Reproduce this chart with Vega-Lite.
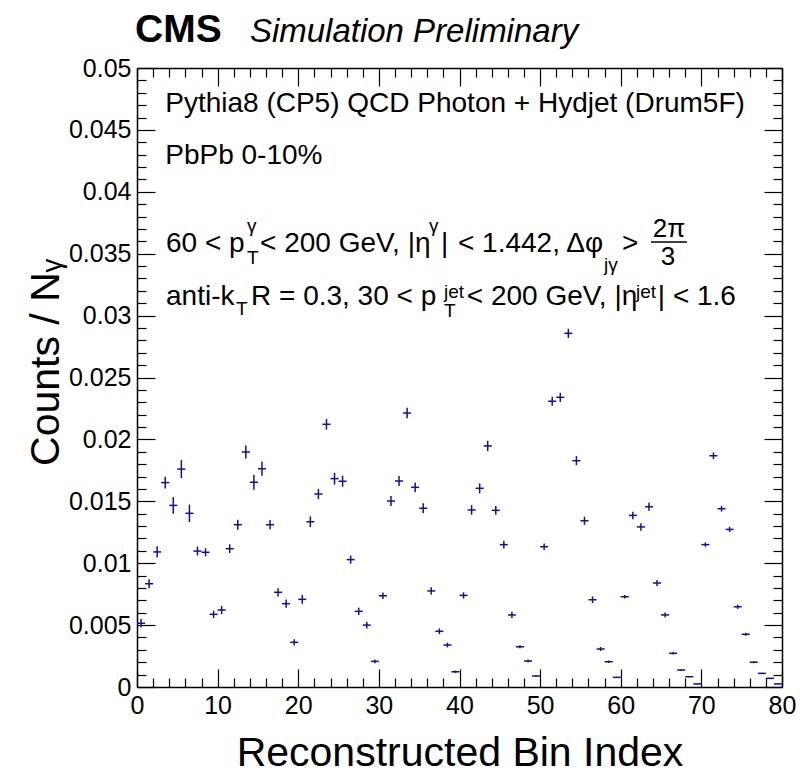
{
  "$schema": "https://vega.github.io/schema/vega-lite/v6.json",
  "width": 645,
  "height": 619,
  "autosize": {"type": "none"},
  "padding": {"left": 137, "top": 68, "right": 18, "bottom": 86},
  "background": "white",
  "config": {
    "view": {"stroke": null},
    "font": "Liberation Sans",
    "axis": {
      "grid": false,
      "domainColor": "black",
      "domainWidth": 1.5,
      "tickColor": "black",
      "tickWidth": 1.2,
      "labelFont": "Liberation Sans",
      "labelFontSize": 25,
      "labelColor": "black",
      "labelFlush": false,
      "labelOverlap": false,
      "titleFont": "Liberation Sans",
      "titleFontSize": 41,
      "titleFontWeight": "normal",
      "titleColor": "black"
    }
  },
  "datasets": {
    "bins": [
      {"lo":0,"hi":1,"c":0.5,"v":0.00515,"e":0.00035},
      {"lo":1,"hi":2,"c":1.5,"v":0.00834,"e":0.00036},
      {"lo":2,"hi":3,"c":2.5,"v":0.01091,"e":0.00045},
      {"lo":3,"hi":4,"c":3.5,"v":0.01651,"e":0.00047},
      {"lo":4,"hi":5,"c":4.5,"v":0.01467,"e":0.00067},
      {"lo":5,"hi":6,"c":5.5,"v":0.0176,"e":0.00073},
      {"lo":6,"hi":7,"c":6.5,"v":0.01403,"e":0.0007},
      {"lo":7,"hi":8,"c":7.5,"v":0.01098,"e":0.00036},
      {"lo":8,"hi":9,"c":8.5,"v":0.01088,"e":0.00033},
      {"lo":9,"hi":10,"c":9.5,"v":0.00587,"e":0.0003},
      {"lo":10,"hi":11,"c":10.5,"v":0.00622,"e":0.00033},
      {"lo":11,"hi":12,"c":11.5,"v":0.01117,"e":0.00036},
      {"lo":12,"hi":13,"c":12.5,"v":0.01311,"e":0.0004},
      {"lo":13,"hi":14,"c":13.5,"v":0.01898,"e":0.00052},
      {"lo":14,"hi":15,"c":14.5,"v":0.01654,"e":0.0006},
      {"lo":15,"hi":16,"c":15.5,"v":0.01763,"e":0.00057},
      {"lo":16,"hi":17,"c":16.5,"v":0.01311,"e":0.00037},
      {"lo":17,"hi":18,"c":17.5,"v":0.00765,"e":0.00033},
      {"lo":18,"hi":19,"c":18.5,"v":0.00673,"e":0.00033},
      {"lo":19,"hi":20,"c":19.5,"v":0.00361,"e":0.00025},
      {"lo":20,"hi":21,"c":20.5,"v":0.00708,"e":0.00036},
      {"lo":21,"hi":22,"c":21.5,"v":0.01335,"e":0.00043},
      {"lo":22,"hi":23,"c":22.5,"v":0.01559,"e":0.00042},
      {"lo":23,"hi":24,"c":23.5,"v":0.02122,"e":0.00043},
      {"lo":24,"hi":25,"c":24.5,"v":0.01683,"e":0.00048},
      {"lo":25,"hi":26,"c":25.5,"v":0.01662,"e":0.00045},
      {"lo":26,"hi":27,"c":26.5,"v":0.01029,"e":0.00033},
      {"lo":27,"hi":28,"c":27.5,"v":0.00611,"e":0.0003},
      {"lo":28,"hi":29,"c":28.5,"v":0.005,"e":0.00027},
      {"lo":29,"hi":30,"c":29.5,"v":0.00207,"e":0.00015},
      {"lo":30,"hi":31,"c":30.5,"v":0.00737,"e":0.00027},
      {"lo":31,"hi":32,"c":31.5,"v":0.01502,"e":0.0004},
      {"lo":32,"hi":33,"c":32.5,"v":0.01664,"e":0.0004},
      {"lo":33,"hi":34,"c":33.5,"v":0.02213,"e":0.00043},
      {"lo":34,"hi":35,"c":34.5,"v":0.01613,"e":0.00039},
      {"lo":35,"hi":36,"c":35.5,"v":0.01444,"e":0.0004},
      {"lo":36,"hi":37,"c":36.5,"v":0.00776,"e":0.0003},
      {"lo":37,"hi":38,"c":37.5,"v":0.0045,"e":0.00023},
      {"lo":38,"hi":39,"c":38.5,"v":0.00339,"e":0.00019},
      {"lo":39,"hi":40,"c":39.5,"v":0.00123,"e":0.0001},
      {"lo":40,"hi":41,"c":40.5,"v":0.0074,"e":0.00025},
      {"lo":41,"hi":42,"c":41.5,"v":0.0143,"e":0.00039},
      {"lo":42,"hi":43,"c":42.5,"v":0.01605,"e":0.0004},
      {"lo":43,"hi":44,"c":43.5,"v":0.01947,"e":0.00041},
      {"lo":44,"hi":45,"c":44.5,"v":0.01427,"e":0.00036},
      {"lo":45,"hi":46,"c":45.5,"v":0.0115,"e":0.00032},
      {"lo":46,"hi":47,"c":46.5,"v":0.00582,"e":0.00025},
      {"lo":47,"hi":48,"c":47.5,"v":0.00325,"e":0.00013},
      {"lo":48,"hi":49,"c":48.5,"v":0.0021,"e":0.00012},
      {"lo":49,"hi":50,"c":49.5,"v":0.00089,"e":0.00005},
      {"lo":50,"hi":51,"c":50.5,"v":0.01133,"e":0.00027},
      {"lo":51,"hi":52,"c":51.5,"v":0.02308,"e":0.00037},
      {"lo":52,"hi":53,"c":52.5,"v":0.0234,"e":0.00037},
      {"lo":53,"hi":54,"c":53.5,"v":0.02857,"e":0.00037},
      {"lo":54,"hi":55,"c":54.5,"v":0.01828,"e":0.00037},
      {"lo":55,"hi":56,"c":55.5,"v":0.01343,"e":0.00033},
      {"lo":56,"hi":57,"c":56.5,"v":0.00705,"e":0.00027},
      {"lo":57,"hi":58,"c":57.5,"v":0.00307,"e":0.00016},
      {"lo":58,"hi":59,"c":58.5,"v":0.00204,"e":0.0001},
      {"lo":59,"hi":60,"c":59.5,"v":0.00078,"e":0.00005},
      {"lo":60,"hi":61,"c":60.5,"v":0.00729,"e":0.00015},
      {"lo":61,"hi":62,"c":61.5,"v":0.01386,"e":0.0003},
      {"lo":62,"hi":63,"c":62.5,"v":0.01293,"e":0.0003},
      {"lo":63,"hi":64,"c":63.5,"v":0.01456,"e":0.00032},
      {"lo":64,"hi":65,"c":64.5,"v":0.0084,"e":0.00024},
      {"lo":65,"hi":66,"c":65.5,"v":0.00582,"e":0.00019},
      {"lo":66,"hi":67,"c":66.5,"v":0.00272,"e":0.0001},
      {"lo":67,"hi":68,"c":67.5,"v":0.00137,"e":0.00007},
      {"lo":68,"hi":69,"c":68.5,"v":0.00083,"e":0.00005},
      {"lo":69,"hi":70,"c":69.5,"v":0.00025,"e":0.00003},
      {"lo":70,"hi":71,"c":70.5,"v":0.0115,"e":0.00017},
      {"lo":71,"hi":72,"c":71.5,"v":0.01868,"e":0.00027},
      {"lo":72,"hi":73,"c":72.5,"v":0.0144,"e":0.00023},
      {"lo":73,"hi":74,"c":73.5,"v":0.01273,"e":0.00021},
      {"lo":74,"hi":75,"c":74.5,"v":0.00648,"e":0.00017},
      {"lo":75,"hi":76,"c":75.5,"v":0.00426,"e":0.00012},
      {"lo":76,"hi":77,"c":76.5,"v":0.002,"e":0.00008},
      {"lo":77,"hi":78,"c":77.5,"v":0.0011,"e":0.00006},
      {"lo":78,"hi":79,"c":78.5,"v":0.0007,"e":0.00005},
      {"lo":79,"hi":80,"c":79.5,"v":0.00025,"e":0.00003}
    ],
    "ann": [
      {"x":3.5,"y":0.04645,"t":"Pythia8 (CP5) QCD Photon + Hydjet (Drum5F)"},
      {"x":3.5,"y":0.04225,"t":"PbPb 0-10%"},
      {"x":3.6,"y":0.03514,"t":"60 < p"},
      {"x":15.26,"y":0.03514,"t":"< 200 GeV, |η"},
      {"x":37.7,"y":0.03514,"t":"|"},
      {"x":39.81,"y":0.03514,"t":"< 1.442, Δφ"},
      {"x":60.16,"y":0.03514,"t":">"},
      {"x":3.6,"y":0.03086,"t":"anti-k"},
      {"x":14.14,"y":0.03086,"t":"R = 0.3, 30 < p"},
      {"x":40.9,"y":0.03086,"t":"< 200 GeV, |η"},
      {"x":64.6,"y":0.03086,"t":"| < 1.6"}
    ],
    "scr": [
      {"x":13.64,"y":0.03675,"t":"γ"},
      {"x":13.64,"y":0.03417,"t":"T"},
      {"x":36.22,"y":0.03675,"t":"γ"},
      {"x":57.92,"y":0.0336,"t":"jγ"},
      {"x":12.28,"y":0.03005,"t":"T"},
      {"x":38.08,"y":0.03142,"t":"jet"},
      {"x":38.08,"y":0.02988,"t":"T"},
      {"x":61.89,"y":0.03142,"t":"jet"}
    ],
    "frac": [
      {"x":65.98,"y":0.03635,"t":"2π"},
      {"x":65.86,"y":0.03409,"t":"3"}
    ],
    "fracbar": [
      {"x":63.75,"x2":68.2,"y":0.03595}
    ],
    "cms": [
      {"x":-0.25,"y":0.0521,"t":"CMS"}
    ],
    "sim": [
      {"x":14.0,"y":0.0521,"t":"Simulation Preliminary"}
    ]
  },
  "layer": [
    {
      "data": {"name": "bins"},
      "mark": {"type": "rule", "color": "#10109e", "strokeWidth": 1.5},
      "encoding": {
        "x": {
          "field": "lo", "type": "quantitative",
          "scale": {"domain": [0, 80], "nice": false, "zero": false},
          "axis": {
            "orient": "bottom",
            "values": [0, 10, 20, 30, 40, 50, 60, 70, 80],
            "tickSize": -18,
            "format": "d",
            "labelPadding": 24,
            "labelBaseline": "top",
            "title": "Reconstructed Bin Index",
            "titleY": 78,
            "titleBaseline": "alphabetic"
          }
        },
        "x2": {"field": "hi"},
        "y": {
          "field": "v", "type": "quantitative",
          "scale": {"domain": [0, 0.05], "nice": false},
          "axis": {
            "orient": "left",
            "values": [0, 0.005, 0.01, 0.015, 0.02, 0.025, 0.03, 0.035, 0.04, 0.045, 0.05],
            "tickSize": -18,
            "format": "~g",
            "labelPadding": 24,
            "title": "Counts / Nᵧ",
            "titleX": -79,
            "titleY": 294,
            "titleAngle": -90,
            "titleAlign": "center",
            "titleBaseline": "alphabetic"
          }
        }
      }
    },
    {
      "data": {"name": "bins"},
      "mark": {"type": "errorbar", "color": "#10109e", "thickness": 1.5},
      "encoding": {
        "x": {
          "field": "c", "type": "quantitative",
          "scale": {"domain": [0, 80], "nice": false, "zero": false},
          "axis": {
            "orient": "top",
            "values": [0, 10, 20, 30, 40, 50, 60, 70, 80],
            "tickSize": -18,
            "labels": false,
            "title": null
          }
        },
        "y": {
          "field": "v", "type": "quantitative",
          "scale": {"domain": [0, 0.05], "nice": false},
          "axis": {
            "orient": "right",
            "values": [0, 0.005, 0.01, 0.015, 0.02, 0.025, 0.03, 0.035, 0.04, 0.045, 0.05],
            "tickSize": -18,
            "labels": false,
            "title": null
          }
        },
        "yError": {"field": "e"}
      }
    },
    {
      "data": {"name": "bins"},
      "mark": {"type": "point", "opacity": 0},
      "encoding": {
        "x": {
          "field": "c", "type": "quantitative",
          "scale": {"domain": [0, 80], "nice": false, "zero": false},
          "axis": {
            "orient": "bottom",
            "values": [2,4,6,8,12,14,16,18,22,24,26,28,32,34,36,38,42,44,46,48,52,54,56,58,62,64,66,68,72,74,76,78],
            "tickSize": -9,
            "labels": false,
            "domain": false,
            "title": null
          }
        },
        "y": {
          "field": "v", "type": "quantitative",
          "scale": {"domain": [0, 0.05], "nice": false},
          "axis": {
            "orient": "left",
            "values": [0.001,0.002,0.003,0.004,0.006,0.007,0.008,0.009,0.011,0.012,0.013,0.014,0.016,0.017,0.018,0.019,0.021,0.022,0.023,0.024,0.026,0.027,0.028,0.029,0.031,0.032,0.033,0.034,0.036,0.037,0.038,0.039,0.041,0.042,0.043,0.044,0.046,0.047,0.048,0.049],
            "tickSize": -9,
            "labels": false,
            "domain": false,
            "title": null
          }
        }
      }
    },
    {
      "data": {"name": "bins"},
      "mark": {"type": "point", "opacity": 0},
      "encoding": {
        "x": {
          "field": "c", "type": "quantitative",
          "scale": {"domain": [0, 80], "nice": false, "zero": false},
          "axis": {
            "orient": "top",
            "values": [2,4,6,8,12,14,16,18,22,24,26,28,32,34,36,38,42,44,46,48,52,54,56,58,62,64,66,68,72,74,76,78],
            "tickSize": -9,
            "labels": false,
            "domain": false,
            "title": null
          }
        },
        "y": {
          "field": "v", "type": "quantitative",
          "scale": {"domain": [0, 0.05], "nice": false},
          "axis": {
            "orient": "right",
            "values": [0.001,0.002,0.003,0.004,0.006,0.007,0.008,0.009,0.011,0.012,0.013,0.014,0.016,0.017,0.018,0.019,0.021,0.022,0.023,0.024,0.026,0.027,0.028,0.029,0.031,0.032,0.033,0.034,0.036,0.037,0.038,0.039,0.041,0.042,0.043,0.044,0.046,0.047,0.048,0.049],
            "tickSize": -9,
            "labels": false,
            "domain": false,
            "title": null
          }
        }
      }
    },
    {
      "data": {"name": "ann"},
      "mark": {"type": "text", "align": "left", "baseline": "alphabetic", "fontSize": 28, "font": "Liberation Sans", "color": "black"},
      "encoding": {
        "x": {"field": "x", "type": "quantitative", "scale": {"domain": [0, 80], "nice": false, "zero": false}, "axis": null},
        "y": {"field": "y", "type": "quantitative", "scale": {"domain": [0, 0.05], "nice": false}, "axis": null},
        "text": {"field": "t"}
      }
    },
    {
      "data": {"name": "scr"},
      "mark": {"type": "text", "align": "left", "baseline": "alphabetic", "fontSize": 19, "font": "Liberation Sans", "color": "black"},
      "encoding": {
        "x": {"field": "x", "type": "quantitative", "scale": {"domain": [0, 80], "nice": false, "zero": false}, "axis": null},
        "y": {"field": "y", "type": "quantitative", "scale": {"domain": [0, 0.05], "nice": false}, "axis": null},
        "text": {"field": "t"}
      }
    },
    {
      "data": {"name": "frac"},
      "mark": {"type": "text", "align": "center", "baseline": "alphabetic", "fontSize": 26, "font": "Liberation Sans", "color": "black"},
      "encoding": {
        "x": {"field": "x", "type": "quantitative", "scale": {"domain": [0, 80], "nice": false, "zero": false}, "axis": null},
        "y": {"field": "y", "type": "quantitative", "scale": {"domain": [0, 0.05], "nice": false}, "axis": null},
        "text": {"field": "t"}
      }
    },
    {
      "data": {"name": "fracbar"},
      "mark": {"type": "rule", "color": "black", "strokeWidth": 1.5},
      "encoding": {
        "x": {"field": "x", "type": "quantitative", "scale": {"domain": [0, 80], "nice": false, "zero": false}, "axis": null},
        "x2": {"field": "x2"},
        "y": {"field": "y", "type": "quantitative", "scale": {"domain": [0, 0.05], "nice": false}, "axis": null}
      }
    },
    {
      "data": {"name": "cms"},
      "mark": {"type": "text", "align": "left", "baseline": "alphabetic", "fontSize": 39, "fontWeight": "bold", "font": "Liberation Sans", "color": "black"},
      "encoding": {
        "x": {"field": "x", "type": "quantitative", "scale": {"domain": [0, 80], "nice": false, "zero": false}, "axis": null},
        "y": {"field": "y", "type": "quantitative", "scale": {"domain": [0, 0.05], "nice": false}, "axis": null},
        "text": {"field": "t"}
      }
    },
    {
      "data": {"name": "sim"},
      "mark": {"type": "text", "align": "left", "baseline": "alphabetic", "fontSize": 33, "fontStyle": "italic", "font": "Liberation Sans", "color": "black"},
      "encoding": {
        "x": {"field": "x", "type": "quantitative", "scale": {"domain": [0, 80], "nice": false, "zero": false}, "axis": null},
        "y": {"field": "y", "type": "quantitative", "scale": {"domain": [0, 0.05], "nice": false}, "axis": null},
        "text": {"field": "t"}
      }
    }
  ],
  "resolve": {"axis": {"x": "independent", "y": "independent"}}
}
